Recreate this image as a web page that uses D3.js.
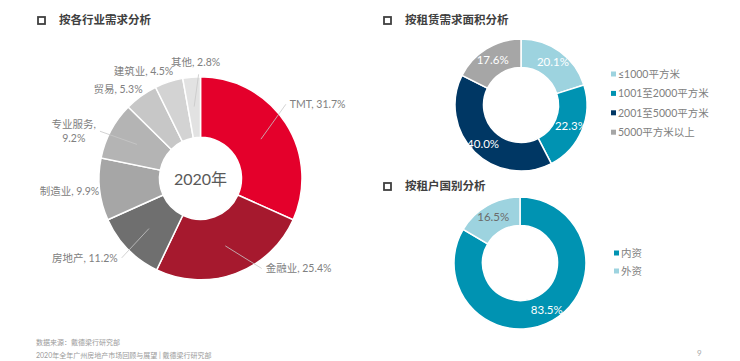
<!DOCTYPE html>
<html>
<head>
<meta charset="utf-8">
<script src="https://cdn.jsdelivr.net/npm/d3@7"></script>
<style>
  body { margin: 0; background: #fff; }
  svg { display: block; font-family: Lato, "Noto Sans CJK SC", sans-serif; }
</style>
</head>
<body>
<svg id="chart" width="740" height="361"></svg>
<script>
// industry split (left donut)
const industries = ['TMT', '金融业', '房地产', '制造业', '专业服务', '贸易', '建筑业', '其他'];
const industryShare = [31.7, 25.4, 11.2, 9.9, 9.2, 5.3, 4.5, 2.8];
const industryColours = ['#e4002b', '#a6192e', '#6f6f6f', '#a6a6a6', '#b4b4b4', '#c7c7c7', '#d3d3d3', '#e2e2e2'];

// leased area split (top right donut)
const areaBands = ['≤1000平方米', '1001至2000平方米', '2001至5000平方米', '5000平方米以上'];
const areaShare = [20.1, 22.3, 40.0, 17.6];
const areaColours = ['#9dd3df', '#0093b2', '#003764', '#a6a6a6'];

// tenant origin (bottom right donut)
const origins = ['内资', '外资'];
const originShare = [83.5, 16.5];
const originColours = ['#0093b2', '#9dd3df'];
const originLabelColours = ['#fff', '#6b6b6b'];

const svg = d3.select('#chart');
const deg = Math.PI / 180;

// section titles with the little square
function title(x, y, text) {
  svg.append('rect')
    .attr('x', x).attr('y', y - 4)
    .attr('width', 7).attr('height', 7)
    .attr('fill', 'none')
    .attr('stroke', '#404040')
    .attr('stroke-width', 1.8);
  svg.append('text')
    .attr('x', x + 21).attr('y', y)
    .attr('dominant-baseline', 'middle')
    .attr('font-size', 11.5)
    .attr('font-weight', 'bold')
    .attr('fill', '#404040')
    .text(text);
}
title(38, 21, '按各行业需求分析');
title(384, 21, '按租赁需求面积分析');
title(384, 187, '按租户国别分析');

const pie = d3.pie().sort(null).value(d => d.value);

// ---------- left donut ----------
const left = { cx: 200.5, cy: 178.3, r: 101.5, r0: 41 };
const gL = svg.append('g').attr('transform', `translate(${left.cx},${left.cy})`);
const indData = pie(industries.map((name, i) => ({ name, value: industryShare[i], colour: industryColours[i] })));
const arcL = d3.arc().innerRadius(left.r0).outerRadius(left.r);

gL.selectAll('path')
  .data(indData)
  .enter()
  .append('path')
    .attr('d', arcL)
    .attr('fill', d => d.data.colour)
    .attr('stroke', '#fff')
    .attr('stroke-width', 1.5);

gL.append('text')
  .attr('text-anchor', 'middle')
  .attr('dominant-baseline', 'central')
  .attr('font-size', 16)
  .attr('fill', '#595959')
  .text('2020年');

// label tweaks (degrees / px) so the labels sit where the original put them
const labelNudge = {
  'TMT': { da: -8, dr: 3 },
  '金融业': { da: -14, dr: -1 },
  '房地产': { da: -1, dr: 2 },
  '制造业': { da: -1, dr: -12 },
  '专业服务': { da: -3, dr: 1 },
  '贸易': { da: 4.6, dr: -6 },
  '建筑业': { da: 6, dr: 0 },
  '其他': { da: 4, dr: -6 }
};
const withLeader = ['TMT', '金融业', '房地产', '专业服务', '其他'];
const labelSize = 10.5;

indData.forEach(d => {
  const mid = (d.startAngle + d.endAngle) / 2;
  const nudge = labelNudge[d.data.name];
  const a = mid + nudge.da * deg;
  const rr = 110 + nudge.dr;
  const px = Math.sin(a) * rr, py = -Math.cos(a) * rr;
  const label = d.data.name + ', ' + d3.format('.1f')(d.value) + '%';

  if (withLeader.includes(d.data.name)) {
    gL.append('line')
      .attr('x1', Math.sin(mid) * 72).attr('y1', -Math.cos(mid) * 72)
      .attr('x2', px).attr('y2', py)
      .attr('stroke', '#c8c8c8')
      .attr('stroke-width', 0.8);
  }

  const s = Math.sin(a);
  if (Math.abs(s) < 0.12) {
    // top label, centred above the leader
    gL.append('text')
      .attr('x', px - 3).attr('y', py - 12)
      .attr('text-anchor', 'middle')
      .attr('dominant-baseline', 'central')
      .attr('font-size', labelSize).attr('fill', '#808080')
      .text(label);
  } else if (d.data.name === '专业服务') {
    // two line label
    const t = gL.append('text')
      .attr('font-size', labelSize).attr('fill', '#808080')
      .attr('text-anchor', 'middle');
    const l1 = t.append('tspan').text(d.data.name + ',');
    const w = l1.node().getComputedTextLength();
    const cx = px - 4 - w / 2;
    l1.attr('x', cx).attr('y', py - 3);
    t.append('tspan').attr('x', cx).attr('y', py + 11).text(d3.format('.1f')(d.value) + '%');
  } else {
    gL.append('text')
      .attr('x', s > 0 ? px + 4 : px - 4).attr('y', py)
      .attr('text-anchor', s > 0 ? 'start' : 'end')
      .attr('dominant-baseline', 'central')
      .attr('font-size', labelSize).attr('fill', '#808080')
      .text(label);
  }
});

// ---------- right donuts ----------
function smallDonut(cx, cy, names, values, colours, labelColours) {
  const g = svg.append('g').attr('transform', `translate(${cx},${cy})`);
  const data = pie(names.map((name, i) => ({ name, value: values[i], colour: colours[i] })));
  const arc = d3.arc().innerRadius(37.5).outerRadius(66);
  const labelArc = d3.arc().innerRadius(54).outerRadius(54);

  g.selectAll('path')
    .data(data)
    .enter()
    .append('path')
      .attr('d', arc)
      .attr('fill', d => d.data.colour)
      .attr('stroke', '#fff')
      .attr('stroke-width', 1.5);

  g.selectAll('text.val')
    .data(data)
    .enter()
    .append('text')
      .attr('class', 'val')
      .attr('transform', d => `translate(${labelArc.centroid(d)})`)
      .attr('text-anchor', 'middle')
      .attr('dominant-baseline', 'central')
      .attr('font-size', 11.5)
      .attr('fill', (d, i) => labelColours[i])
      .text(d => d3.format('.1f')(d.value) + '%');
}
smallDonut(521, 105, areaBands, areaShare, areaColours, ['#fff', '#fff', '#fff', '#fff']);
smallDonut(520, 263, origins, originShare, originColours, originLabelColours);

// legends
function legend(x, y, step, names, colours) {
  const g = svg.append('g');
  names.forEach((name, i) => {
    g.append('rect')
      .attr('x', x).attr('y', y + i * step - 2.5)
      .attr('width', 5).attr('height', 5)
      .attr('fill', colours[i]);
    g.append('text')
      .attr('x', x + 7).attr('y', y + i * step)
      .attr('dominant-baseline', 'central')
      .attr('font-size', 10.5)
      .attr('fill', '#808080')
      .text(name);
  });
}
legend(611, 74, 19.4, areaBands, areaColours);
legend(614, 253, 18, origins, originColours);

// footer
svg.append('text')
  .attr('x', 36).attr('y', 342)
  .attr('dominant-baseline', 'central')
  .attr('font-size', 7).attr('fill', '#9a9a9a')
  .text('数据来源：戴德梁行研究部');
svg.append('text')
  .attr('x', 36).attr('y', 355)
  .attr('dominant-baseline', 'central')
  .attr('font-size', 7).attr('fill', '#9a9a9a')
  .text('2020年全年广州房地产市场回顾与展望 | 戴德梁行研究部');
svg.append('text')
  .attr('x', 697).attr('y', 353)
  .attr('dominant-baseline', 'central')
  .attr('font-size', 8).attr('fill', '#aaa')
  .text('9');
</script>
</body>
</html>
